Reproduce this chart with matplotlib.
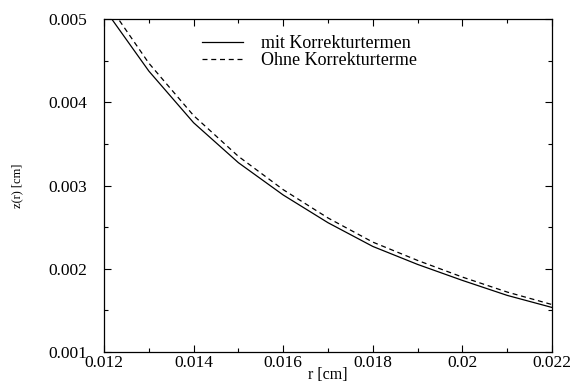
import matplotlib

matplotlib.use("Agg")
import matplotlib.pyplot as plt  # noqa: E402
from matplotlib.ticker import FuncFormatter, MultipleLocator  # noqa: E402

# r [cm] und z(r) [cm]
r = [0.012, 0.013, 0.014, 0.015, 0.016, 0.017, 0.018, 0.019, 0.020, 0.021, 0.022]
z_mit = [0.00513, 0.004375, 0.003754, 0.003274, 0.002886, 0.002553,
         0.002268, 0.002052, 0.001860, 0.001680, 0.001535]
z_ohne = [0.00525, 0.00447, 0.00384, 0.00335, 0.00295, 0.00261,
          0.00232, 0.00210, 0.00190, 0.00172, 0.00157]

plt.rcParams["font.family"] = ["Liberation Serif", "DejaVu Serif"]

fig = plt.figure(figsize=(5.74, 3.82), dpi=100)
ax = fig.add_axes([104 / 574, 30 / 382, 448 / 574, 333 / 382])

ax.plot(r, z_mit, color="black", lw=0.9, label="mit Korrekturtermen")
ax.plot(r, z_ohne, color="black", lw=0.9, ls=(0, (4, 3)), label="Ohne Korrekturterme")

ax.set_xlim(0.012, 0.022)
ax.set_ylim(0.001, 0.005)
ax.xaxis.set_major_locator(MultipleLocator(0.002))
ax.xaxis.set_minor_locator(MultipleLocator(0.001))
ax.yaxis.set_major_locator(MultipleLocator(0.001))
ax.yaxis.set_minor_locator(MultipleLocator(0.0005))
fmt = FuncFormatter(lambda v, p: f"{v:g}")
ax.xaxis.set_major_formatter(fmt)
ax.yaxis.set_major_formatter(fmt)

ax.tick_params(which="both", direction="in", top=True, right=True,
               width=0.8, labelsize=12.5)
ax.tick_params(which="major", length=5)
ax.tick_params(which="minor", length=3)
ax.tick_params(axis="x", pad=2)
ax.tick_params(axis="y", pad=12)
for s in ax.spines.values():
    s.set_linewidth(0.9)

ax.set_xlabel("r [cm]", fontsize=11.5, labelpad=-3)
ax.set_ylabel("z(r) [cm]", fontsize=9, labelpad=18)

ax.legend(loc="upper left", bbox_to_anchor=(0.19, 0.99), frameon=False,
          fontsize=13, handlelength=2.3, handletextpad=1.0,
          labelspacing=0.0, borderpad=0.2)

fig.savefig("out.png", dpi=100)
